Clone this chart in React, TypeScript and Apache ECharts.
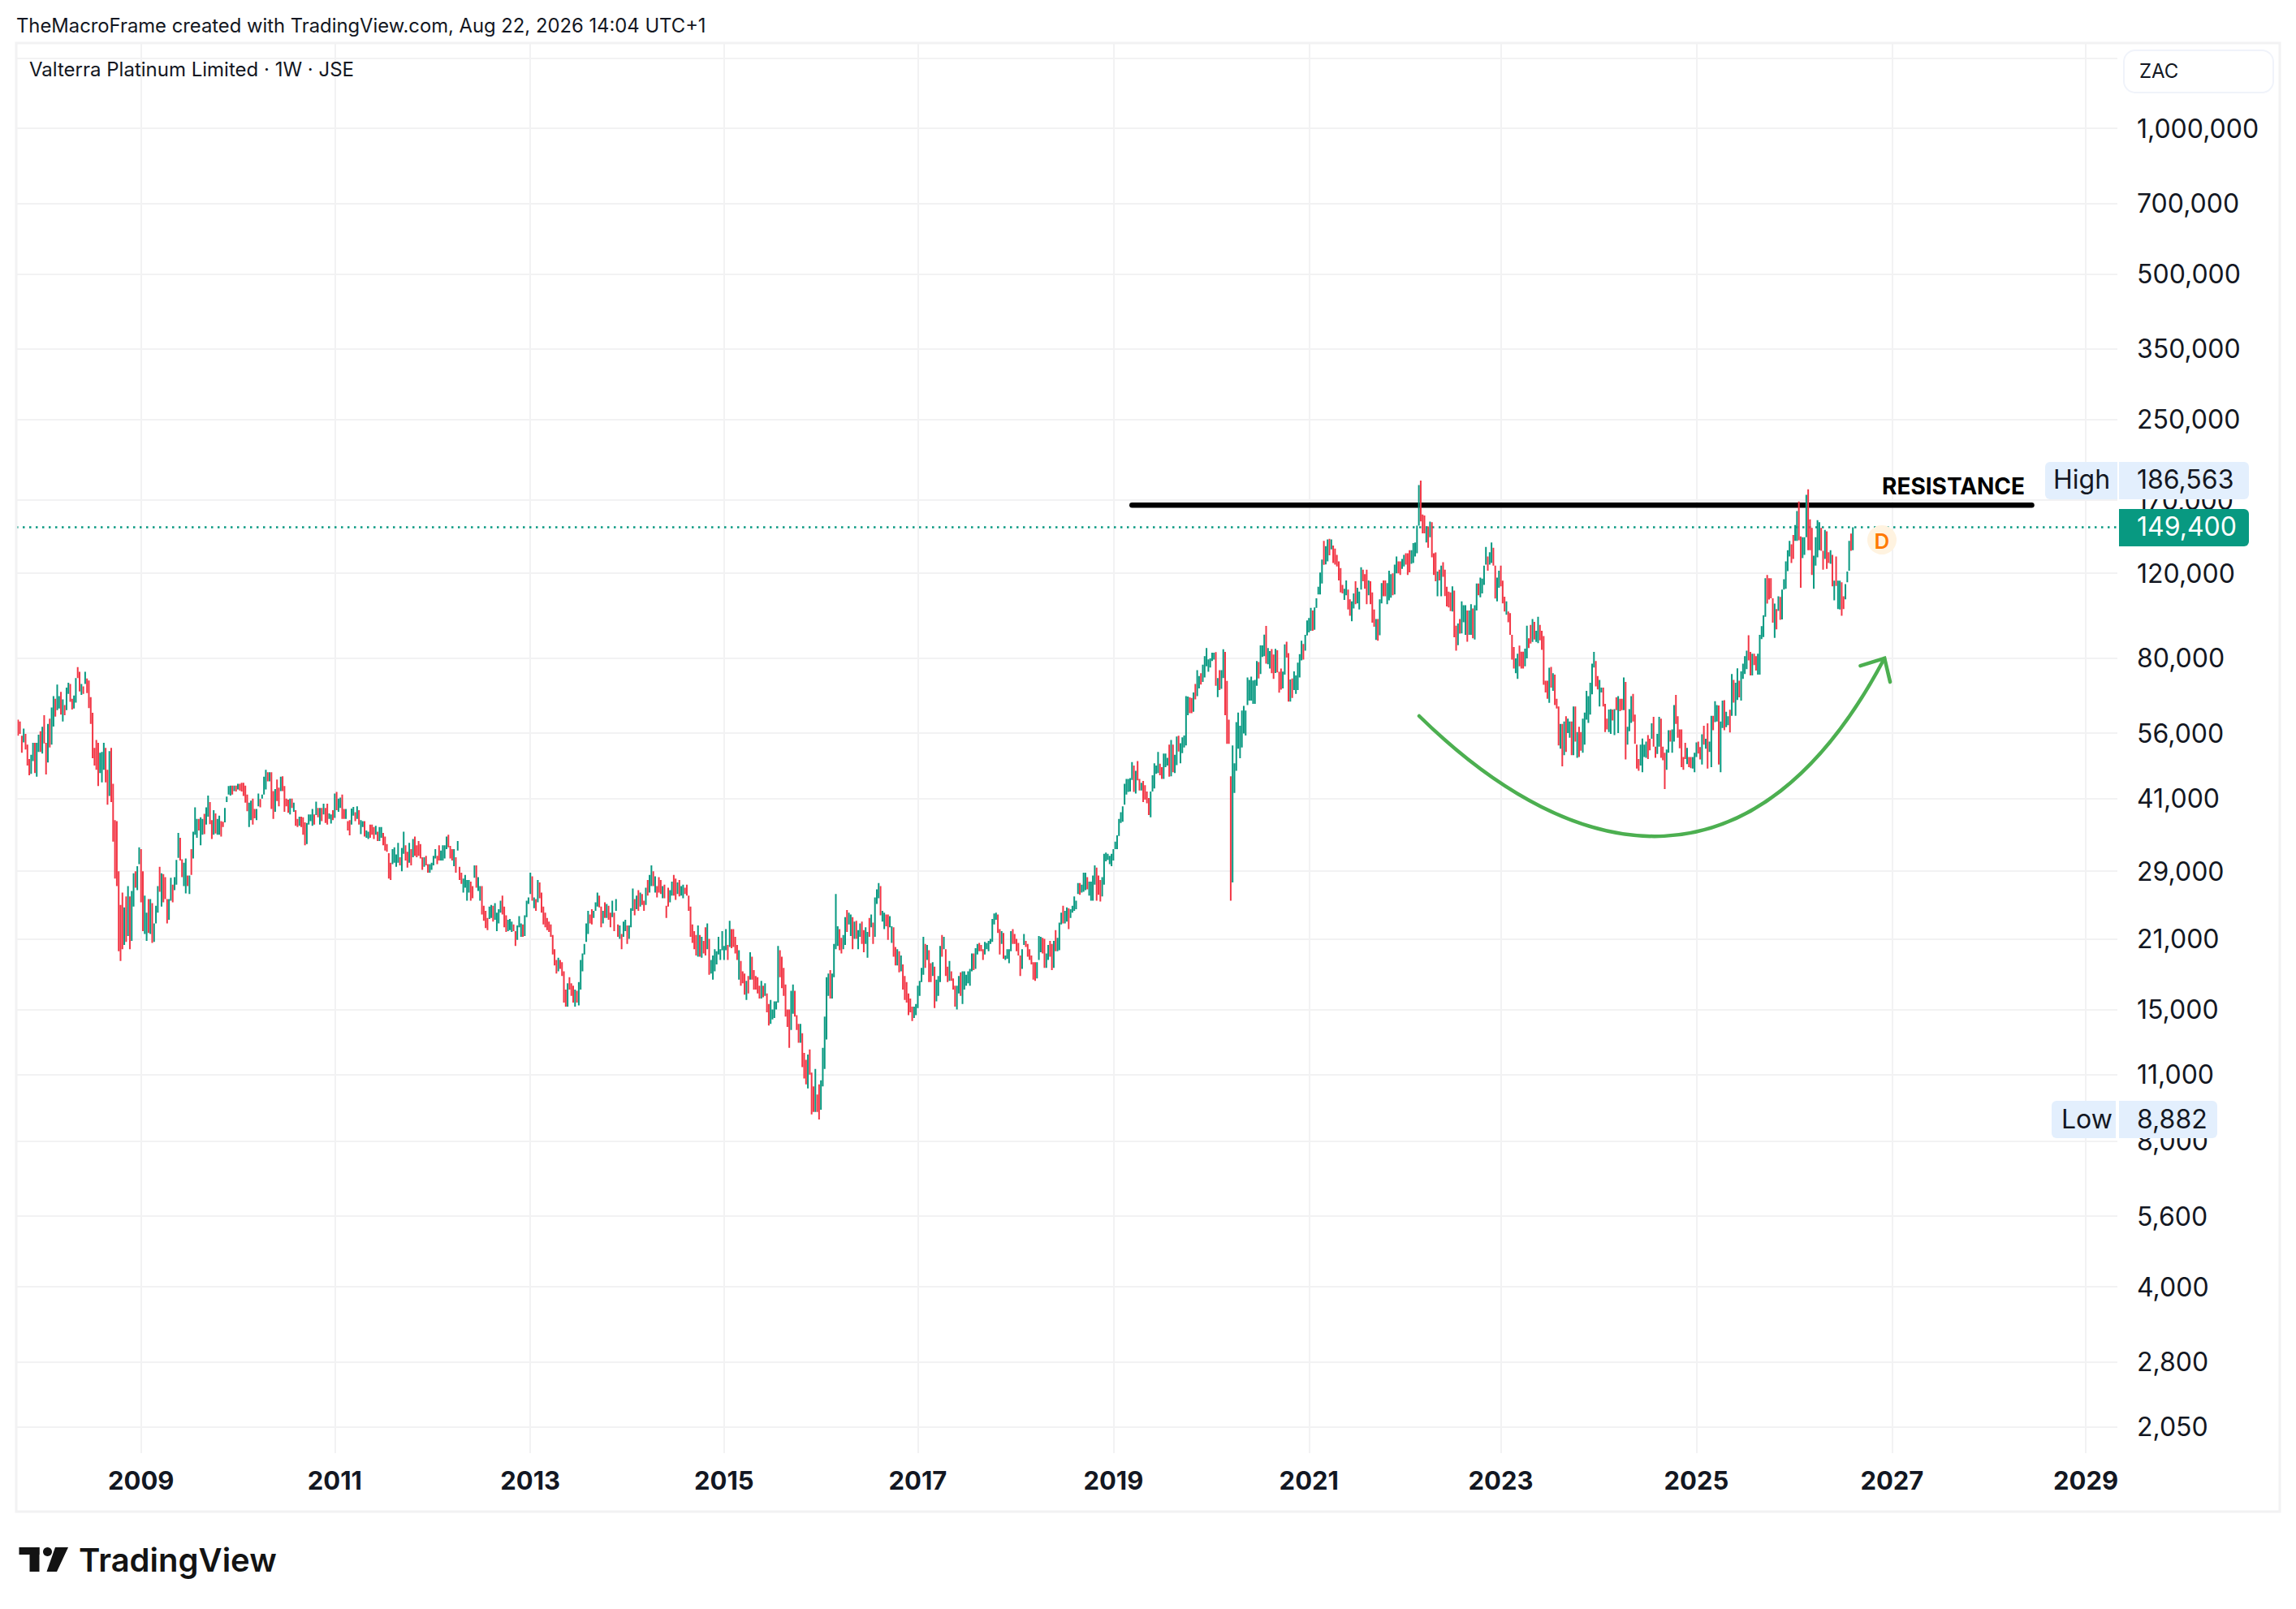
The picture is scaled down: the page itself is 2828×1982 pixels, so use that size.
import React, { useEffect, useRef } from "react";
import * as echarts from "echarts";

// Weekly bars, in units of 100 ZAC: [open, close] or [open, close, high, low].
const weeks2007to2008 = [
[538,602],[597,553],[592,558],[553,510],[536,572],[558,518],[530,480],[495,458],[461,505],[490,535],
[535,463],[455,535],[512,556],[565,512],[508,577],[610,533],[535,460],[487,585],[600,523],[530,633],
[578,668],[660,606],[625,706],[630,668],[682,612],[592,658],[640,610],[625,696],[675,712],[708,650],
[660,627],[630,670],[648,728],[767,728],[750,683],[672,708],[700,675],[708,750],[727,678],[720,631],
[665,585],[617,497],[522,480],[542,470],[535,435],[463,510],[443,512],[470,535],[522,443],[470,398],
[415,514],[522,403],[440,334],[370,280],[368,270],[290,198],[247,200,247,189],[262,200],[204,244],[257,207],
[213,270],[257,200],[208,264],[245,287],[290,268],[265,297],[300,325],
];
const weeks2009to2010 = [
[322,250],[290,218],[215,258],[208,238],[254,216],[215,254],[249,206],[207,226],[226,246],[238,270],
[296,263],[245,287],[286,250],[282,254],[254,226],[230,254],[252,281],[272,250],[265,282],[272,306],
[309,348],[340,305],[307,282],[270,302],[261,308],[284,270],[260,284],[322,285],[308,350],[345,393],
[340,372],[372,352],
[328,375],[345,372],[381,346],[362,393],[376,416],[403,363],[370,338],[345,388],[382,347],[345,372],
[345,378],[368,342],[367,358],[366,392],[403,414],[418,435],[416,436],[436,418],[425,436],[436,424],
[428,440],[440,426],
[442,424],[442,415],[436,402],[418,386],[358,402],[370,406],[410,362],[390,373],[370,390],[395,420],
[409,393],[410,418],[418,455],[428,470],[465,445],[445,465],[465,390],[425,372],[385,429],[449,405],
[432,395],[425,455],[456,425],[435,385],[410,395],[408,383],[380,410],[410,392],[385,402],[388,360],
[372,358],[360,376],[376,358],
[375,345],[366,328],[330,365],[362,380],[368,380],[360,390],[380,362],[379,404],[392,375],[362,392],
[392,368],[380,400],[392,365],[400,362],[372,382],[364,380],[388,370],
];
const weeks2011to2012 = [
[374,420],[423,388],[385,410],[392,412],[418,372],[390,372],[372,390],[368,352],[370,344],[362,391],
[378,394],[384,368],
[372,395],[388,362],[346,370],[358,368],[368,342],[340,352],[338,350],[362,340],[362,345],[358,338],
[345,360],
[350,335],[335,358],[340,358],[348,328],[342,320],[330,318],[316,280],[302,278],[300,322],[302,325],
[296,314],
[302,332],[310,298],[290,324],[315,350],[328,305],[318,295],[302,332],[322,298],[310,338],[342,312],
[328,310],
[335,312],[330,308],[310,292],[296,310],[312,298],[300,288],[288,300],[292,302],[298,312],[308,322],
[312,300],
[328,305],[305,320],[305,328],[308,328],[322,342],[345,325],[327,308],[322,305],[297,322],[310,288],
[320,335],
[296,278],[288,273],[262,280],[268,285],[252,278],[262,278],[276,252],[270,255],[281,298],[298,268],
[264,282],
[252,270],[270,236],[246,229],[240,221],[232,219],[231,245],[232,247],[246,228],[230,249],[218,238],
[226,242],
[238,252],[258,236],[245,222],[235,217],[218,230],[219,231],[217,228],[225,218],[218,203],[209,224],
[222,234],[212,226],
[225,212],[213,235],[233,252],[248,256],
];
const weeks2013to2014 = [
[260,288],[283,252],[243,256],[254,240],[250,278],[275,255],[262,238],[245,225],
[238,222],[232,219],[228,217],[225,212],[214,195],[200,185],[190,178],[180,192],
[190,182],[188,176],[180,155],[165,152],[152,170],[175,165],[170,160],[168,155],[152,165],[164,155],
[153,171],[165,190],[180,196],[195,205],[207,226],[215,240],[236,226],[242,225],[232,240],[240,250],
[245,262],[258,244],[245,222],[226,240],[250,232],[232,248],[246,230],[238,222],[233,252],[238,218],
[240,254],[225,212],[210,224],[215,200],[212,228],[218,230],[224,205],[210,224],[222,243],[240,267],[254,235],
[242,258],[265,240],[245,262],[260,247],[252,240],[247,268],[278,258],[262,285],[270,298],[290,270],[262,283],
[270,256],[282,262],[278,260],[255,270],[272,255],[246,232],[268,245],[250,265],[258,276],[285,258],[280,253],[260,275],
[278,257],[258,270],[255,272],[268,260],[272,258],[258,240],[245,212],[225,206],[218,200],[214,194],
[193,224],[214,193],[192,212],[208,196],[222,194],[200,226],[210,177],[178,190],[173,194],[180,200],
[186,198],[195,212],[190,200],[199,218],
];
const weeks2015to2016 = [
[190,203],[199,220],[204,190],[202,229],[220,201],[220,202],[212,196],[204,190],[173,199],[189,168],
[180,170],[178,161],[157,172],[176,162],[173,197],[193,173],[181,165],[176,165],[175,162],[168,158],[158,172],
[168,159],[160,170],[162,148],[154,139],[140,157],[143,150],[144,156],[150,156],[155,203],[199,175],[193,166],
[183,160],[169,145],[150,138],[150,125],[136,164],[147,169],[164,145],[146,136],[140,128],[128,140],[134,114],[122,108],[118,105],
[103,121],[124,110],[111,91],[104,92],[92,113],[100,92],[105,90,105,88.82],[93,107],[104,113,125,104],
[125,130,145,113],[145,157,175,130],[160,178],[181,158],[158,178],[175,205],[200,260],
[203,223],[220,199],[211,196],[200,214],[204,233],[241,217],[225,238],[213,236],[233,200],[210,228],
[229,210],[200,219],[212,226],[228,205],[219,197],[205,222],[192,217],[232,212],[222,236],[227,205],
[212,256],[248,266],[255,274],[270,235],[228,240],[220,238],[236,223],[236,209],[222,234],[206,223],
[222,193],[202,185],[185,200],[198,179],[180,194],[186,165],[176,157],[171,155],[162,146],
[158,148],[152,142],[144,152],[146,154],
];
const weeks2017to2018 = [
[151,168],[160,172],[171,183],[177,212],[205,183],[190,204],[199,171],[187,171],[176,188],[184,151],
[156,173],[160,176],[171,203],[214,193],[200,212],[200,176],[184,171],[172,189],[180,172],[174,165],
[168,152],[150,168],[162,176],[179,160],[154,180],[165,180],[168,177],[170,180],[168,182],[180,196],
[196,181],[182,201],[195,205],[206,198],[204,198],[200,190],[195,207],[200,206],[198,208],[205,210],
[207,231],[225,237],[230,238],[236,216],[220,195],[205,218],[216,191],[190,194],[191,200],[187,200],
[198,218],[220,205],[215,205],[210,198],[206,194],[194,176],[182,200],[204,215],[208,202],[205,193],
[200,190],[194,186],[188,173],[188,172],[174,188],[190,213],[197,212],[211,196],[210,183],[183,196],
[190,204],[208,193],[205,181],[183,208],[219,198],[198,211],[199,227],[225,238],[246,226],[226,240],
[228,244],[243,220],[232,242],[238,246],[240,257],[242,252],[260,274],[274,259],[262,272],[263,288],
[265,288],[282,266],[258,276],[252,276],[252,284],[272,298],[295,252],[284,259],[278,251],[257,282],
[272,315],[304,317],[306,315],[300,312],[297,315],
];
const weeks2019to2020 = [
[305,322],[322,334],[322,344],[343,372],[365,384],[367,395],[398,440],[418,450],[423,450],[424,452],
[448,488],[480,423],[420,468],[490,447],[450,426],[426,442],[446,403],[437,408],[424,401],[411,379],
[375,424],[424,458],[430,485],[461,480],[463,512],[484,458],[476,450],[450,508],[476,508],[480,498],
[530,455],[456,542],[530,465],[463,505],[481,551],[553,513],[485,534],[509,549],[523,554],[528,668],
[610,667],[664,616],[662,616],[620,680],[708,658],[668,756],[693,735],[745,706],[715,776],[730,808],
[770,840],[750,796],[766,800],[790,822],[795,822],[824,702],[665,728],[756,688],[692,756],[728,835],
[825,610],[718,532],[597,532],[456,418,456,252],[275,528],[421,485],[468,590],[520,618],[497,580],[523,624],
[559,638],[554,624],[640,730],[654,722],[654,733],[644,720],[644,722],[702,790],[786,727],[742,851],
[805,851],[808,896],[934,780],[778,840],[762,828],[836,745],[815,725],[746,837],[831,748],[750,679],
[762,689],[693,751],[740,855],[866,803],[820,651],[651,723],[727,662],[688,752],[675,737],[688,784],
[730,816],[792,870],[857,795],[830,895],
];
const weeks2021to2022 = [
[892,958],[905,970],[912,1018],[1005,912],[917,1020],[1018,1065],[1085,1125],[1085,1204],[1143,1281],[1400,1249],
[1252,1366],[1270,1410],[1414,1308],[1345,1410],[1370,1260],[1350,1250],[1310,1240],[1270,1160],[1230,1095],[1135,1090],
[1057,1115],[1080,1160],[1110,1010],[1060,980],[955,1050],[1015,1090],[1155,1035],[1040,1120],[1010,1100],[1110,1235],
[1220,1155],[1195,1115],[1220,1035],[1080,1160],[1155,1035],[1095,948],[1010,930],[873,965],[965,870],[893,1060],
[1040,1145],[1160,1075],[1160,1075],[1035,1145],[1055,1215],[1068,1195],[1200,1080],[1085,1250],[1200,1300],[1270,1200],
[1270,1190],[1225,1285],[1240,1310],[1320,1250],[1320,1190],[1340,1205],[1255,1340],[1260,1385],[1300,1390],[1320,1505],
[1505,1828],[1866,1537],[1588,1452],[1580,1452],[1390,1500],[1500,1355],[1425,1535],[1530,1295],[1320,1190],[1325,1155],
[1075,1210],[1220,1160],[1075,1245],[1265,1180],[1220,1076],[1125,1025],[1100,1020],[1095,1002],[1000,1128],[1105,884],
[935,830],[852,945],[965,900],[901,1050],[950,1030],[895,1030],[1005,866],[895,1005],[895,1035],[1015,880],
[875,1030],[1005,1143],[1143,1080],[1070,1175],[1090,1170],[1135,1244],[1250,1360],[1300,1215],[1250,1326],[1260,1390],
[1355,1244],[1244,1064],[1050,1175],[1120,1215],
];
const weeks2023to2024 = [
[1244,1127],[1158,1040],[1073,1000],[985,1050],[1000,950],[992,895],[895,795],[844,762],[745,800],[725,818],
[850,770],[826,762],[826,762],[770,838],[800,935],[880,840],[938,858],[865,965],[952,875],[865,912],
[860,975],[938,872],[912,833],[890,705],[719,680],[719,660],[647,765],[768,696],[685,745],[740,640],
[660,630],[636,528],[520,585],[585,478],[504,592],[607,512],[560,600],[548,592],[592,504],[504,636],
[636,538],[498,563],[577,500],[563,515],[510,600],[530,618],[597,685],[588,668],[612,712],[674,780],
[766,825],[790,700],[735,690],[636,722],[680,696],[696,636],[644,563],[600,570],[563,627],[558,628],
[627,595],[555,628],[664,625],[560,668],[660,622],[660,625],[625,730],[715,494],[530,577],[565,628],
[588,668],[675,592],[612,532],[530,473],[495,468],[480,530],[465,546],[500,530],[498,538],[555,495],
[545,516],[545,587],[605,525],[525,498],[507,558],[525,605],[600,498],[525,492],[510,465,510,429],[470,518],
[510,568],[568,538],[510,570],[538,640],[672,585],[607,548],[570,521],[570,476],[500,470],[535,495],
[483,522],[500,476],[500,474],[473,500],[465,510],
];
const weeks2025to2026 = [
[500,536],[538,508],[524,494],[482,557],[580,530],[520,545],[587,473],[512,538],[476,608],[608,568],
[590,652],[592,640],[639,482],[465,592],[574,654],[655,568],[576,620],[582,607],[626,562],[608,742],
[722,648],[608,712],[656,763],[719,664],[654,752],[725,780],[742,808],[760,830],[893,792],[825,737],
[737,818],[818,775],[808,755],[740,818],[740,895],[877,933],[885,982],[975,1172],[1190,1038],[1172,1059],
[1172,1065],[1065,948],[882,1038],[1012,918],[1003,1075],[1072,961],[963,1110],[1110,1166],[1115,1270],[1212,1340],
[1300,1400],[1378,1260],[1440,1285],[1400,1510],[1400,1615],[1690,1405],[1430,1120],[1290,1425],[1310,1425],[1425,1745],
[1790,1340],[1552,1340],[1490,1190],[1115,1305],[1245,1425],[1295,1545],[1340,1530],[1490,1335],[1335,1220],[1285,1475],
[1465,1225],[1326,1260],[1255,1340],[1310,1127],[1055,1158],[1300,1130],[1012,1158],[1010,1158],[1150,980],[1075,1012],
[1060,1140],[1150,1210],[1215,1400],[1450,1335],[1340,1494],
];

const axisWeekCount = 1129;
const yearLabels = ["2009", "2011", "2013", "2015", "2017", "2019", "2021", "2023", "2025", "2027", "2029"];
const yearWeeks = [67, 171, 276, 380, 484, 589, 694, 797, 902, 1007, 1111];
const priceLabels = [1000000, 700000, 500000, 350000, 250000, 170000, 120000, 80000, 56000, 41000, 29000, 21000, 15000, 11000, 8000, 5600, 4000, 2800, 2050];
const priceGrid = [1400000, ...priceLabels];

const lastPrice = 149400;
const resistancePrice = 166100;
const resistanceWeeks = [599, 1082];
const arrowHead = [[990, 77200], [1003, 80000], [1006, 71450]];

const UP = "#089981";
const DOWN = "#f23645";
const GRID = "#f2f2f3";
const INK = "#131722";
const FONT = "Inter";

const allWeeks = [
  ...weeks2007to2008, ...weeks2009to2010, ...weeks2011to2012, ...weeks2013to2014, ...weeks2015to2016,
  ...weeks2017to2018, ...weeks2019to2020, ...weeks2021to2022, ...weeks2023to2024, ...weeks2025to2026,
];
const candles = allWeeks.map((r) => {
  const o = r[0] * 100, c = r[1] * 100;
  const h = r.length > 2 ? r[2] * 100 : Math.max(o, c);
  const l = r.length > 3 ? r[3] * 100 : Math.min(o, c);
  return [o, c, l, h];
});
const categories = Array.from({ length: axisWeekCount }, (_, i) => {
  const k = yearWeeks.indexOf(i);
  return k >= 0 ? yearLabels[k] : "w" + i;
});
const isYearWeek = (i: number) => yearWeeks.indexOf(i) >= 0;

const txt = (text: string, x: number, y: number, o: any = {}) => ({
  type: "text",
  z: 100,
  style: { text, x, y, fill: o.fill || INK, font: `${o.weight || 400} ${o.size || 32}px ${FONT}`, textAlign: o.align || "left", textVerticalAlign: "middle" },
});
const box = (x: number, y: number, width: number, height: number, fill: string, r: any = 6) => ({
  type: "rect", z: 99, shape: { x, y, width, height, r }, style: { fill },
});

export default function App() {
  const ref = useRef<HTMLDivElement>(null);
  useEffect(() => {
    const chart = echarts.init(ref.current!, undefined, { renderer: "svg", width: 2828, height: 1982 });
    chart.setOption({
      animation: false,
      backgroundColor: "#ffffff",
      grid: { left: 20, right: 220, top: 53, bottom: 192, containLabel: false },
      xAxis: {
        type: "category",
        data: categories,
        boundaryGap: false,
        axisLine: { show: false },
        axisTick: { show: false },
        axisLabel: {
          interval: (i: number) => isYearWeek(i),
          color: INK, fontFamily: FONT, fontWeight: 700, fontSize: 31, margin: 18, hideOverlap: false,
        },
        splitLine: { show: true, interval: (i: number) => isYearWeek(i), lineStyle: { color: GRID, width: 2 } },
      },
      yAxis: {
        type: "log",
        position: "right",
        min: 1810,
        max: 1502600,
        axisLine: { show: false },
        axisTick: { show: false, customValues: priceGrid },
        axisLabel: {
          customValues: priceLabels,
          align: "left",
          margin: 24,
          color: INK,
          fontFamily: FONT,
          fontSize: 32,
          padding: [0, 0, 2, 0],
          formatter: (v: number) => Number(v).toLocaleString("en-US"),
          showMinLabel: true,
          showMaxLabel: true,
        },
        splitLine: { show: true, lineStyle: { color: GRID, width: 2 } },
        minorSplitLine: { show: false },
      },
      series: [
        {
          type: "line", name: "Last", z: 1, symbol: "none", silent: true,
          data: [[0, lastPrice], [axisWeekCount - 1, lastPrice]],
          lineStyle: { color: UP, width: 2.5, type: [2.5, 5.5] },
        },
        {
          type: "line", name: "Resistance", z: 1, symbol: "none", silent: true,
          data: resistanceWeeks.map((w) => [w, resistancePrice]),
          lineStyle: { color: "#000000", width: 6.5, cap: "round" },
        },
        {
          type: "candlestick", name: "Valterra Platinum Limited", z: 2, barWidth: 1, silent: true,
          data: candles,
          itemStyle: { color: UP, color0: DOWN, borderColor: UP, borderColor0: DOWN, borderWidth: 2 },
        },
        {
          type: "line", name: "Arrow", z: 3, symbol: "none", silent: true,
          data: arrowHead,
          lineStyle: { color: "#4caf50", width: 4.5, cap: "round", join: "miter" },
        },
      ],
      graphic: [
        { type: "rect", z: 98, shape: { x: 20, y: 53, width: 2788, height: 1809 }, style: { fill: "transparent", stroke: GRID, lineWidth: 3 }, silent: true },
        { type: "bezierCurve", z: 97, shape: { x1: 1748, y1: 882, cpx1: 1945, cpy1: 1075, cpx2: 2165, cpy2: 1107, x2: 2321, y2: 811 }, style: { fill: "none", stroke: "#4caf50", lineWidth: 4.5, lineCap: "round" }, silent: true },
        txt("TheMacroFrame created with TradingView.com, Aug 22, 2026 14:04 UTC+1", 20, 31, { size: 23.8 }),
        txt("Valterra Platinum Limited · 1W · JSE", 36, 85.5, { size: 24 }),
        { type: "rect", z: 99, shape: { x: 2616, y: 62, width: 184, height: 52, r: 14 }, style: { fill: "#ffffff", stroke: "#f0f3fa", lineWidth: 2 } },
        txt("ZAC", 2635, 87.5, { size: 24 }),
        txt("RESISTANCE", 2318, 599, { size: 28, weight: 700, fill: "#000000" }),
        box(2519, 569, 89, 46, "#e3effd", [6, 0, 0, 6]),
        box(2610, 569, 160, 46, "#e3effd", [0, 6, 6, 0]),
        txt("High", 2529, 590),
        txt("186,563", 2632, 590),
        box(2610, 627, 160, 46, UP, [0, 6, 6, 0]),
        txt("149,400", 2632, 648, { fill: "#ffffff" }),
        box(2527, 1356, 79, 46, "#e3effd", [6, 0, 0, 6]),
        box(2610, 1356, 121, 46, "#e3effd", [0, 6, 6, 0]),
        txt("Low", 2539, 1378),
        txt("8,882", 2632, 1378),
        { type: "circle", z: 99, shape: { cx: 2318, cy: 665, r: 18 }, style: { fill: "#fff3e0" } },
        txt("D", 2318, 666, { size: 26, weight: 600, fill: "#ff7a00", align: "center" }),
        { type: "rect", z: 99, shape: { x: 23.5, y: 1906, width: 25, height: 9 }, style: { fill: "#131313" } },
        { type: "rect", z: 99, shape: { x: 36.5, y: 1906, width: 12, height: 30 }, style: { fill: "#131313" } },
        { type: "circle", z: 99, shape: { cx: 58.5, cy: 1911.5, r: 5.5 }, style: { fill: "#131313" } },
        { type: "polygon", z: 99, shape: { points: [[68, 1906], [84, 1906], [70, 1936], [57.5, 1936]] }, style: { fill: "#131313" } },
        txt("TradingView", 97, 1921, { size: 40, weight: 600, fill: "#131313" }),
      ],
    });
    return () => chart.dispose();
  }, []);
  return <div ref={ref} style={{ position: "absolute", left: 0, top: 0, width: 2828, height: 1982, background: "#ffffff" }} />;
}
